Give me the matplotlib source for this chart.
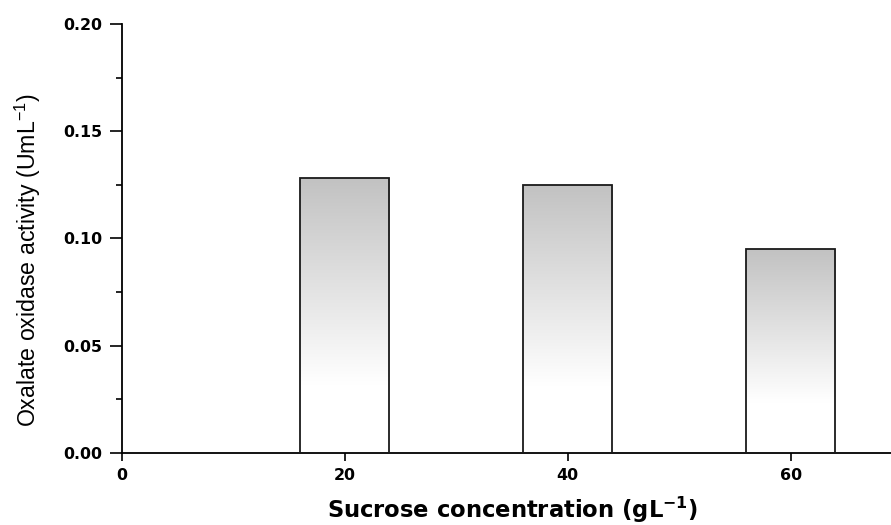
import numpy as np
import matplotlib
matplotlib.use("Agg")
import matplotlib.pyplot as plt
from matplotlib.ticker import MultipleLocator

plt.rcParams['mathtext.default'] = 'regular'

# data
sucrose = [20, 40, 60]
activity = [0.128, 0.125, 0.095]
bar_width = 8

fig = plt.figure(figsize=(8.91, 5.25), dpi=100)
ax = fig.add_axes([122/891, 1 - 453/525, (891 - 122)/891, (453 - 24)/525])

bars = ax.bar(sucrose, activity, width=bar_width, facecolor='none',
              edgecolor='#1a1a1a', linewidth=1.3, zorder=3)

# white at the bottom quarter, then fading to grey at the top of each bar
t = np.linspace(0, 1, 256)
shade = np.clip((t - 0.25) / 0.75, 0, 1)
grey = 1 - shade * (1 - 0.76)
grad = np.repeat(np.dstack([grey, grey, grey]).reshape(256, 1, 3), 2, axis=1)
for b in bars:
    x0, y0 = b.get_x(), b.get_y()
    im = ax.imshow(grad, extent=[x0, x0 + b.get_width(), y0, y0 + b.get_height()],
                   origin='lower', aspect='auto', zorder=2, interpolation='bilinear')
    im.set_clip_path(b)

ax.set_xlim(0, 69)
ax.set_ylim(0, 0.2)
ax.set_xticks([0, 20, 40, 60])
ax.yaxis.set_major_locator(MultipleLocator(0.05))
ax.yaxis.set_minor_locator(MultipleLocator(0.025))
ax.yaxis.set_major_formatter(plt.FormatStrFormatter('%.2f'))

for s in ['top', 'right']:
    ax.spines[s].set_visible(False)
for s in ['left', 'bottom']:
    ax.spines[s].set_linewidth(1.3)

ax.tick_params(axis='y', which='major', direction='out', length=9, width=1.2, pad=5)
ax.tick_params(axis='y', which='minor', direction='out', length=4.5, width=1.2)
ax.tick_params(axis='x', which='major', direction='out', length=6, width=1.2, pad=5)
for lab in ax.get_xticklabels() + ax.get_yticklabels():
    lab.set_fontfamily('DejaVu Sans')
    lab.set_fontweight('bold')
    lab.set_fontsize(11.4)

ax.set_xlabel(r'Sucrose concentration (gL$^{-1}$)', fontfamily='DejaVu Sans',
              fontweight='bold', fontsize=16.3)
ax.xaxis.set_label_coords(0.508, -0.098)
ax.set_ylabel(r'Oxalate oxidase activity (UmL$^{-1}$)', fontfamily='Liberation Sans',
              fontsize=16.7)
ax.yaxis.set_label_coords(-0.103, 0.45)

fig.savefig('out.png', dpi=100)
